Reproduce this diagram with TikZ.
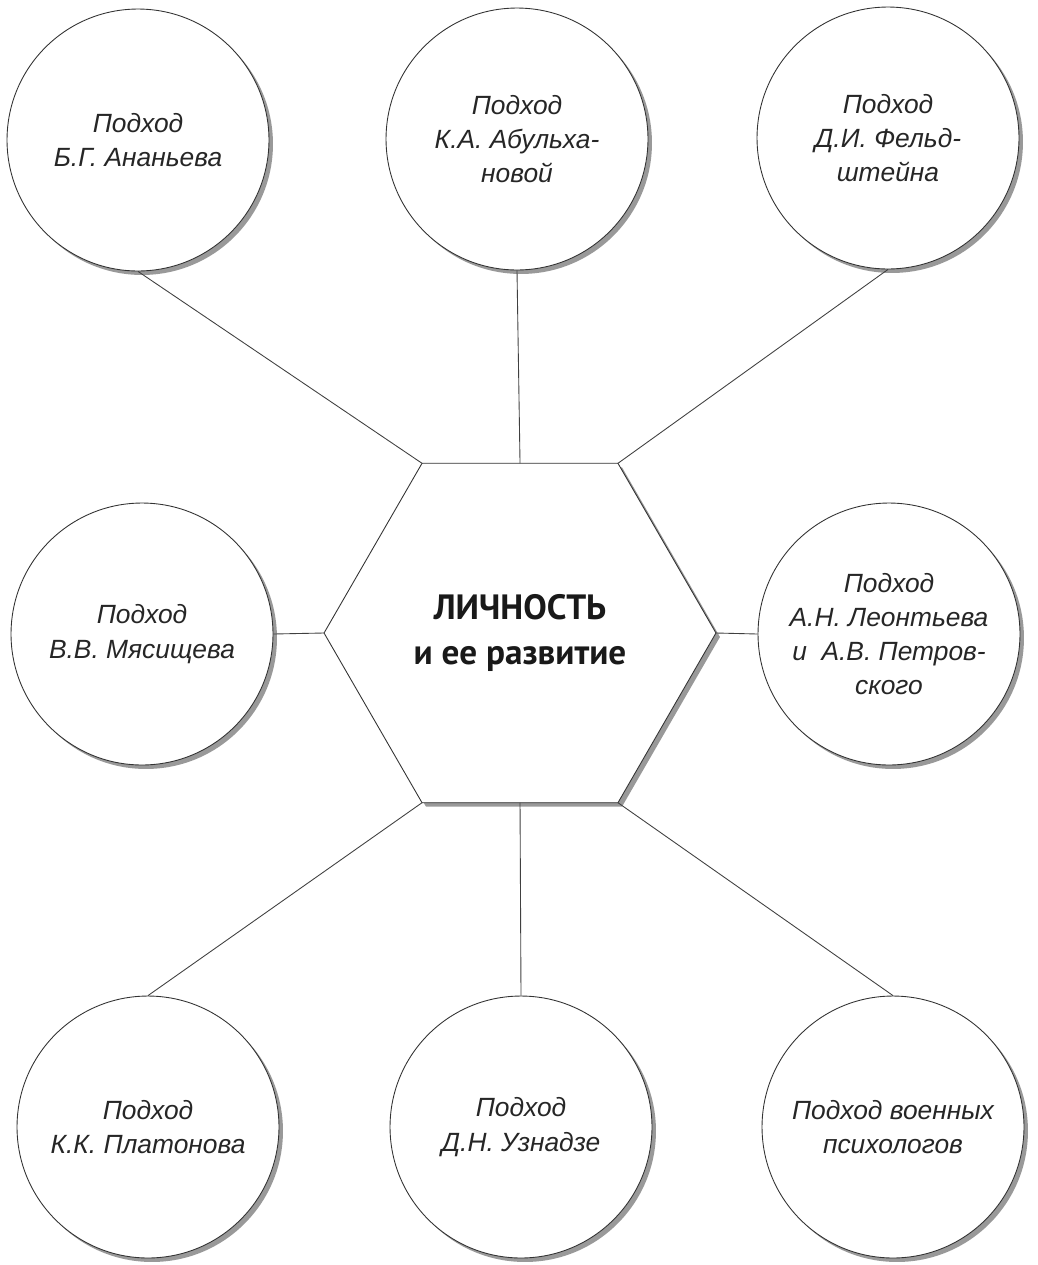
\documentclass[tikz,border=0pt]{standalone}
\usepackage{fontspec}
\setmainfont{Liberation Sans}
\newfontfamily\hexfont{PT Sans}
\usetikzlibrary{shapes.geometric}

\begin{document}
\begin{tikzpicture}[x=0.02cm, y=-0.02cm,
  ten/.style={preaction={fill=black!40, transform canvas={xshift=0.8mm, yshift=-0.8mm}}},
  podhod/.style={circle, draw=black!80, line width=0.5pt, fill=white, ten,
    minimum size=5.24cm, inner sep=0pt, align=center, text=black!85,
    font=\fontsize{15}{19.5}\selectfont\itshape},
  svyaz/.style={draw=black!75, line width=0.5pt}]
\useasboundingbox (0,0) rectangle (1038,1265);
% центр
\node[regular polygon, regular polygon sides=6, minimum size=7.84cm,
  inner sep=0pt, outer sep=0pt, draw=black!80, line width=0.5pt, fill=white, ten,
  align=center, text=black!90,
  font=\hexfont\bfseries\fontsize{20}{26}\selectfont] (lichnost) at (520,633)
  {ЛИЧНОСТЬ\\и ее развитие};
% верхний ряд
\node[podhod] (ananiev) at (138,140) {Подход\\Б.Г. Ананьева};
\node[podhod] (abulhan) at (517,139) {Подход\\К.А. Абульха-\\новой};
\node[podhod] (feldsht) at (888,138) {Подход\\Д.И. Фельд-\\штейна};
% средний ряд
\node[podhod] (myasish) at (142,634) {Подход\\В.В. Мясищева};
\node[podhod] (leontiev) at (889,634) {Подход\\А.Н. Леонтьева\\и\ \ А.В. Петров-\\ского};
% нижний ряд
\node[podhod] (platonov) at (148,1127) {Подход\\К.К. Платонова};
\node[podhod] (uznadze) at (521,1127) {Подход\\Д.Н. Узнадзе};
\node[podhod] (voen) at (893,1127) {Подход военных\\психологов};
% связи
\draw[svyaz] (lichnost.corner 2) -- (ananiev.south);
\draw[svyaz] (lichnost.north) -- (abulhan.south);
\draw[svyaz] (lichnost.corner 1) -- (feldsht.south);
\draw[svyaz] (lichnost.west) -- (myasish.east);
\draw[svyaz] (lichnost.east) -- (leontiev.west);
\draw[svyaz] (lichnost.corner 4) -- (platonov.north);
\draw[svyaz] (lichnost.south) -- (uznadze.north);
\draw[svyaz] (lichnost.corner 5) -- (voen.north);
\end{tikzpicture}
\end{document}
